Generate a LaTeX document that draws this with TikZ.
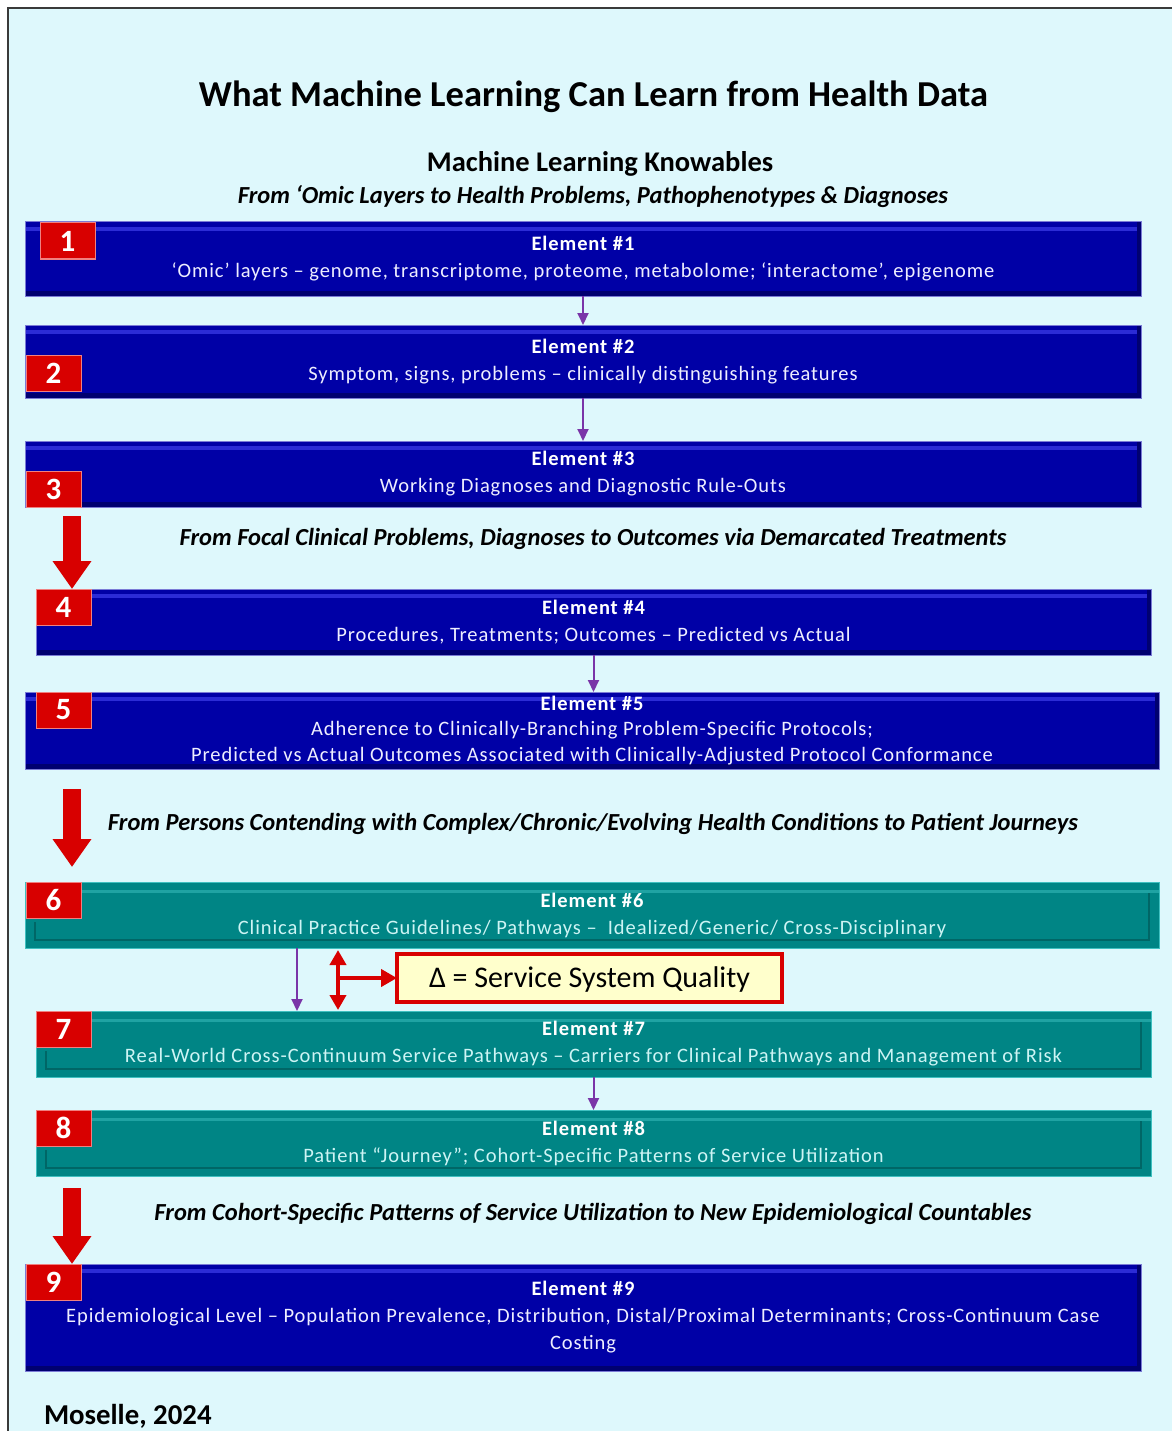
\documentclass[tikz,border=0pt]{standalone}
\usepackage{fontspec}
\setmainfont{Carlito}
\newfontfamily\boxfont[LetterSpace=4.5]{Carlito}
\usetikzlibrary{arrows.meta}
\definecolor{bg}{HTML}{DEF8FC}
\definecolor{framegray}{HTML}{3A3A3A}
\definecolor{boxblue}{HTML}{0000A6}
\definecolor{bluehi}{HTML}{2B2BD6}
\definecolor{bluelo}{HTML}{000070}
\definecolor{blueedge}{HTML}{7B7BD6}
\definecolor{boxteal}{HTML}{008585}
\definecolor{tealhi}{HTML}{1FA3A3}
\definecolor{teallo}{HTML}{006666}
\definecolor{tealedge}{HTML}{3FC0C0}
\definecolor{badgered}{HTML}{D80000}
\definecolor{badgeedge}{HTML}{F08080}
\definecolor{arrowpurple}{HTML}{7A35A8}
\definecolor{deltafill}{HTML}{FFFFCC}
\definecolor{tealtext}{HTML}{CDF4F4}
\definecolor{bluetext}{HTML}{EEEEFF}
\begin{document}
\begin{tikzpicture}[x=1pt,y=-1pt,
  every node/.style={inner sep=0pt,outer sep=0pt},
  bluebox/.style={fill=boxblue, draw=blueedge, line width=1pt, text=bluetext,
    align=center, font=\boxfont\fontsize{20.5}{27}\selectfont,
    execute at begin node={\rule{0pt}{23.5pt}},
    path picture={
      \fill[bluehi] ([yshift=-5pt]path picture bounding box.north west) rectangle ([yshift=-9pt]path picture bounding box.north east);
      \fill[bluelo] (path picture bounding box.south west) rectangle ([yshift=5pt]path picture bounding box.south east);
      \fill[bluelo] ([xshift=-4pt]path picture bounding box.north east) rectangle (path picture bounding box.south east);
    }},
  tealbox/.style={fill=boxteal, draw=tealedge, line width=1pt, text=tealtext,
    align=center, font=\boxfont\fontsize{20.5}{27}\selectfont,
    execute at begin node={\rule{0pt}{23.5pt}},
    path picture={
      \fill[tealhi] ([yshift=-8pt]path picture bounding box.north west) rectangle ([yshift=-11pt]path picture bounding box.north east);
      \draw[teallo, line width=1.2pt] ([xshift=10pt,yshift=-40pt]path picture bounding box.north west) -- ([xshift=10pt,yshift=8pt]path picture bounding box.south west) -- ([xshift=-10pt,yshift=8pt]path picture bounding box.south east) -- ([xshift=-10pt,yshift=-11pt]path picture bounding box.north east);
    }},
  badge/.style={fill=badgered, draw=badgeedge, line width=1pt, text=white,
    anchor=north west, minimum width=55pt, minimum height=36pt,
    font=\fontsize{31}{31}\selectfont\bfseries},
  flowarrow/.style={draw=arrowpurple, line width=2pt, -{Triangle[width=11pt,length=12pt]}},
  bigarrow/.style={draw=badgered, line width=18pt, -{Triangle[width=37pt,length=28pt]}},
  redarrow/.style={draw=badgered, line width=4pt},
  heading/.style={font=\fontsize{24.5}{28}\selectfont\bfseries\itshape, text=black},
]
\useasboundingbox (0,0) rectangle (1172,1431);
\fill[white] (0,0) rectangle (1172,1431);
\fill[bg] (8,8) rectangle (1172,1431);
\draw[framegray, line width=2pt] (8,1431) -- (8,8) -- (1172,8);

% titles
\node[font=\fontsize{36.5}{40}\selectfont\bfseries] (title) at (593.5,97) {What Machine Learning Can Learn from Health Data};
\node[font=\fontsize{28.5}{32}\selectfont\bfseries] (subtitle) at (600,164) {Machine Learning Knowables};
\node[heading] (sub2) at (593,197) {From ‘Omic Layers to Health Problems, Pathophenotypes \& Diagnoses};

% element boxes
\node[bluebox, minimum width=1116pt, minimum height=74pt] (b1) at (583,259)
  {{\bfseries\color{white}Element \#1}\\‘Omic’ layers – genome, transcriptome, proteome, metabolome; ‘interactome’, epigenome};
\node[bluebox, minimum width=1116pt, minimum height=73pt] (b2) at (583,361.5)
  {{\bfseries\color{white}Element \#2}\\Symptom, signs, problems – clinically distinguishing features};
\node[bluebox, minimum width=1116pt, minimum height=66pt] (b3) at (583,474)
  {{\bfseries\color{white}Element \#3}\\Working Diagnoses and Diagnostic Rule-Outs};
\node[bluebox, minimum width=1115pt, minimum height=66pt] (b4) at (593.5,622)
  {{\bfseries\color{white}Element \#4}\\Procedures, Treatments; Outcomes – Predicted vs Actual};
\node[bluebox, minimum width=1134pt, minimum height=77pt, font=\boxfont\fontsize{20.5}{25.5}\selectfont] (b5) at (592,730.5)
  {{\bfseries\color{white}Element \#5}\\Adherence to Clinically-Branching Problem-Specific Protocols;\\Predicted vs Actual Outcomes Associated with Clinically-Adjusted Protocol Conformance};
\node[tealbox, minimum width=1134pt, minimum height=66pt] (b6) at (592,915)
  {{\bfseries\color{white}Element \#6}\\Clinical Practice Guidelines/ Pathways –\ \ Idealized/Generic/ Cross-Disciplinary};
\node[tealbox, minimum width=1115pt, minimum height=66pt] (b7) at (593.5,1044)
  {{\bfseries\color{white}Element \#7}\\Real-World Cross-Continuum Service Pathways – Carriers for Clinical Pathways and Management of Risk};
\node[tealbox, minimum width=1115pt, minimum height=66pt] (b8) at (593.5,1143)
  {{\bfseries\color{white}Element \#8}\\Patient “Journey”; Cohort-Specific Patterns of Service Utilization};
\node[bluebox, minimum width=1116pt, minimum height=107pt] (b9) at (583,1317.5)
  {{\bfseries\color{white}Element \#9}\\Epidemiological Level – Population Prevalence, Distribution, Distal/Proximal Determinants; Cross-Continuum Case\\Costing};

% badges
\node[badge] (n1) at (40,223) {1};
\node[badge] (n2) at (26,355) {2};
\node[badge] (n3) at (26,471) {3};
\node[badge] (n4) at (36,589) {4};
\node[badge] (n5) at (36,692) {5};
\node[badge] (n6) at (26,882) {6};
\node[badge] (n7) at (36,1011) {7};
\node[badge] (n8) at (36,1110) {8};
\node[badge] (n9) at (26,1264) {9};

% headings
\node[heading] (h1) at (593,539) {From Focal Clinical Problems, Diagnoses to Outcomes via Demarcated Treatments};
\node[heading] (h2) at (593,824) {From Persons Contending with Complex/Chronic/Evolving Health Conditions to Patient Journeys};
\node[heading] (h3) at (593,1213.5) {From Cohort-Specific Patterns of Service Utilization to New Epidemiological Countables};

% delta box
\node[fill=deltafill, draw=badgered, line width=3.5pt, minimum width=385pt, minimum height=48pt,
  font=\fontsize{30}{34}\selectfont] (delta) at (589.5,978) {\rule{0pt}{24pt}Δ = Service System Quality};

% purple flow arrows
\draw[flowarrow] (b1.south) -- (b1.south |- b2.north);
\draw[flowarrow] (b2.south) -- (b2.south |- b3.north);
\draw[flowarrow] (b4.south) -- (b4.south |- b5.north);
\draw[flowarrow] (b7.south) -- (b7.south |- b8.north);
\coordinate (pv) at (297,978);
\draw[flowarrow] (pv |- b6.south) -- (pv |- b7.north);

% red double arrow to delta
\coordinate (dv) at (338,978);
\draw[redarrow, {Triangle[width=16pt,length=15pt]}-{Triangle[width=16pt,length=15pt]}] ([yshift=-2pt]dv |- b6.south) -- ([yshift=1pt]dv |- b7.north);
\draw[redarrow, -{Triangle[width=17pt,length=16pt]}] (dv) -- (delta.west);

% big red arrows
\draw[bigarrow] ([xshift=47pt,yshift=-9pt]b3.south west) -- ([xshift=36pt]b4.north west);
\draw[bigarrow] ([xshift=47pt,yshift=-20pt]b5.south west) -- ([xshift=47pt,yshift=15pt]b6.north west);
\draw[bigarrow] ([xshift=36pt,yshift=-12pt]b8.south west) -- ([xshift=47pt]b9.north west);

% author
\node[anchor=west, font=\fontsize{28.8}{32}\selectfont\bfseries] (author) at (44,1416) {Moselle, 2024};
\end{tikzpicture}
\end{document}
